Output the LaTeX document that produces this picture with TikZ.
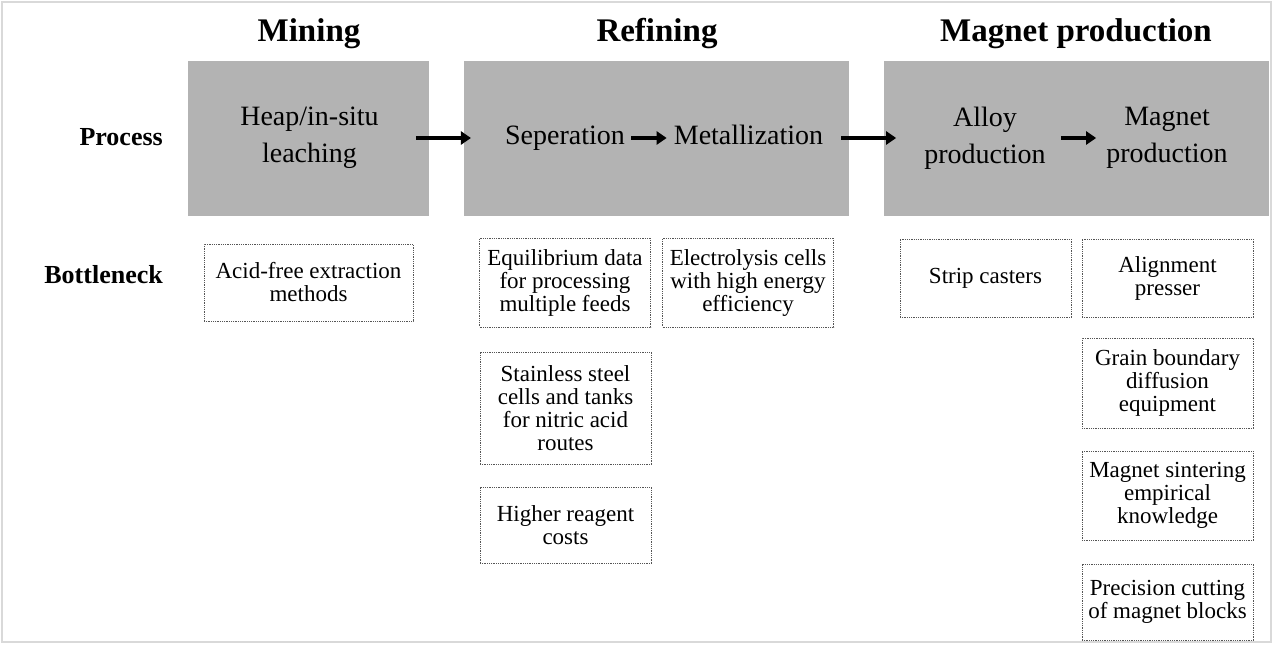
\documentclass[tikz,border=0pt]{standalone}
\usepackage{fontspec}
\setmainfont{Liberation Serif}
\usetikzlibrary{arrows.meta}
\definecolor{procgrey}{HTML}{B3B3B3}
\definecolor{framegrey}{HTML}{D9D9D9}
\definecolor{dotgrey}{HTML}{555555}

\begin{document}
\begin{tikzpicture}[x=1pt,y=-1pt,
    stage/.style={font=\fontsize{33}{38}\selectfont\bfseries,anchor=base},
    rowlabel/.style={font=\fontsize{26}{30}\selectfont\bfseries,anchor=base east,inner sep=0pt},
    greybox/.style={fill=procgrey,inner sep=0pt,minimum height=155pt},
    proc/.style={font=\fontsize{28}{37}\selectfont,align=center,inner sep=0pt},
    oneline/.style={text height=18pt,text depth=6pt},
    neck/.style={draw=dotgrey,densely dotted,line width=0.8pt,
      font=\fontsize{23}{23}\selectfont,align=center,inner sep=0pt,
      minimum width=171pt},
    flow/.style={-{Triangle[length=10pt,width=13pt]},line width=3.6pt}]
    \useasboundingbox (0,0) rectangle (1273,645);
    \draw[framegrey,line width=2pt] (2,2) rectangle (1271,642);

    % stages
    \node[stage] (hmin) at (309,41) {Mining};
    \node[stage] (href) at (657,41) {Refining};
    \node[stage] (hmag) at (1076,41) {Magnet production};

    \node[rowlabel] (lproc) at (163,145) {Process};
    \node[rowlabel] (lneck) at (163,283) {Bottleneck};

    \node[greybox,minimum width=241pt] (gmin) at (308.5,138.5) {};
    \node[greybox,minimum width=385pt] (gref) at (656.5,138.5) {};
    \node[greybox,minimum width=385pt] (gmag) at (1076.5,138.5) {};

    % process steps
    \node[proc] (heap) at (309.5,138) {Heap/in-situ\\leaching};
    \node[proc,oneline] (sep) at (565,138) {Seperation};
    \node[proc,oneline] (met) at (748.5,138) {Metallization};
    \node[proc] (alloy) at (985,138) {Alloy\\production};
    \node[proc] (mag) at (1167,138) {Magnet\\production};

    \draw[flow,shorten <=37pt,shorten >=34pt] (heap.east) -- (sep.west);
    \draw[flow,shorten <=6pt,shorten >=7pt] (sep.east) -- (sep.east -| met.west);
    \draw[flow,shorten <=18pt,shorten >=28pt] (met.east) -- (met.east -| alloy.west);
    \draw[flow,shorten <=15pt,shorten >=10pt] (alloy.east) -- (alloy.east -| mag.west);

    % bottlenecks
    \node[neck,minimum width=209pt,minimum height=77pt] (acid) at (308.5,282.5) {Acid-free extraction\\methods};
    \node[neck,minimum height=89pt] (equil) at (565,282.5) {Equilibrium data\\for processing\\multiple feeds};
    \node[neck,minimum height=89pt] (elec) at (748,282.5) {Electrolysis cells\\with high energy\\efficiency};
    \node[neck,minimum height=112pt] (steel) at (565.5,408) {Stainless steel\\cells and tanks\\for nitric acid\\routes};
    \node[neck,minimum height=76pt] (reag) at (565.5,525) {Higher reagent\\costs};
    \node[neck,minimum height=78pt] (strip) at (985.5,278) {Strip casters};
    \node[neck,minimum height=78pt] (align) at (1167.5,278) {Alignment\\presser};
    \node[neck,minimum height=90pt] (grain) at (1167.5,383) {Grain boundary\\diffusion\\equipment};
    \node[neck,minimum height=89pt] (sint) at (1167.5,495.5) {Magnet sintering\\empirical\\knowledge};
    \node[neck,minimum height=76pt] (cut) at (1167.5,602) {Precision cutting\\of magnet blocks};
  \end{tikzpicture}
\end{document}
